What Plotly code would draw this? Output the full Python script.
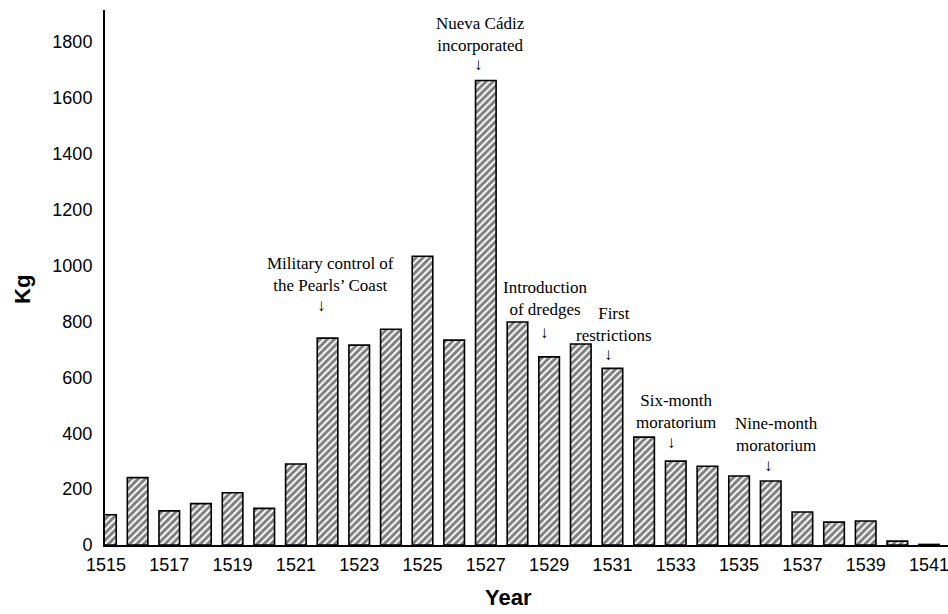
import plotly.graph_objects as go

years = list(range(1515, 1542))
kg = [108, 241, 122, 148, 187, 131, 290, 740, 715, 772, 1033, 733, 1662, 798,
      673, 719, 632, 386, 300, 282, 247, 229, 118, 82, 86, 14, 2]

tick_years = list(range(1515, 1542, 2))
y_ticks = list(range(0, 1801, 200))

# event annotations: text, x of text centre, x of arrow, y (kg) of text top, y (kg) of arrow
events = [
    ("Nueva Cádiz<br>incorporated", 1526.82, 1526.76, 1907, 1720),
    ("Military control of<br>the Pearls\u2019 Coast", 1522.08, 1521.82, 1048, 858),
    ("Introduction<br>of dredges", 1528.9, 1528.84, 962, 762),
    ("First<br>restrictions", 1531.05, 1530.86, 869, 680),
    ("Six-month<br>moratorium", 1533.0, 1532.85, 558, 368),
    ("Nine-month<br>moratorium", 1536.17, 1535.92, 476, 286),
]

SERIF = "Liberation Serif, Times New Roman, serif"
SANS = "Liberation Sans, Arial, sans-serif"

fig = go.Figure()
fig.add_trace(go.Bar(
    x=years, y=kg,
    width=0.65,
    marker=dict(
        color="white",
        line=dict(color="black", width=1.6),
        pattern=dict(shape="/", fgcolor="black", bgcolor="white", size=5, solidity=0.6),
    ),
    showlegend=False,
))

annotations = []
for text, xt, xa, yt, ya in events:
    annotations.append(dict(
        x=xt, y=yt, xref="x", yref="y", text=text, showarrow=False,
        xanchor="center", yanchor="top",
        font=dict(family=SERIF, size=17, color="black"),
    ))
    annotations.append(dict(
        x=xa, y=ya, xref="x", yref="y", text="\u2193", showarrow=False,
        xanchor="center", yanchor="middle",
        font=dict(family=SERIF, size=17, color="black"),
    ))

W, H = 948, 614
ml, mr, mt, mb = 105, 0, 10, 69
pw, ph = W - ml - mr, H - mt - mb

annotations.append(dict(
    x=(508 - ml) / pw, y=(H - mb - 597) / ph, xref="paper", yref="paper",
    xanchor="center", yanchor="middle",
    text="<b>Year</b>", showarrow=False,
    font=dict(family=SANS, size=22, color="black"),
))
annotations.append(dict(
    x=(22 - ml) / pw, y=(H - mb - 290) / ph, xref="paper", yref="paper",
    xanchor="center", yanchor="middle",
    text="<b>Kg</b>", textangle=-90, showarrow=False,
    font=dict(family=SANS, size=22, color="black"),
))

fig.update_layout(
    width=W, height=H,
    margin=dict(l=ml, r=mr, t=mt, b=mb, autoexpand=False),
    plot_bgcolor="white", paper_bgcolor="white",
    bargap=0.35,
    annotations=annotations,
    xaxis=dict(
        range=[1514.97, 1541.6],
        tickmode="array", tickvals=tick_years, ticktext=[str(y) for y in tick_years],
        showgrid=False, zeroline=False, automargin=False,
        showline=True, linecolor="black", linewidth=2,
        ticks="", ticklabelstandoff=2, ticklabeloverflow="allow",
        tickfont=dict(family=SANS, size=18, color="black"),
    ),
    yaxis=dict(
        range=[0, 1914],
        tickmode="array", tickvals=y_ticks,
        showgrid=False, zeroline=False, automargin=False,
        showline=True, linecolor="black", linewidth=2,
        ticks="", ticklabelstandoff=7,
        tickfont=dict(family=SANS, size=18, color="black"),
    ),
)

fig.write_html(
    "out.html",
    config={"displayModeBar": False},
    post_script="document.body.style.margin='0';document.body.style.overflow='hidden';",
)
